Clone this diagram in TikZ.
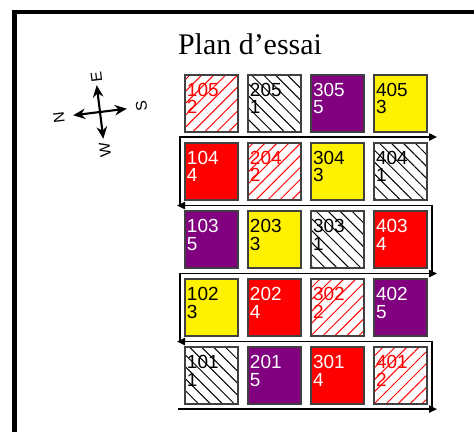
\documentclass[tikz,border=0pt]{standalone}
\usepackage{fontspec}
\setmainfont{Liberation Serif}
\newfontfamily\arialfont{Liberation Sans}
\usetikzlibrary{arrows.meta, positioning, patterns.meta}
\definecolor{plum}{RGB}{128,0,128}
\definecolor{edgegray}{RGB}{64,64,64}

\begin{document}
\begin{tikzpicture}[x=0.025cm, y=-0.025cm,
    node distance=0.275cm and 0.25cm,
    cell/.style={rectangle, draw=edgegray, line width=1.1pt, minimum width=1.325cm, minimum height=1.425cm, inner sep=0pt, outer sep=0pt},
    t1/.style={cell, pattern={Lines[angle=-45, distance=6pt, line width=0.7pt]}, pattern color=black},
    t2/.style={cell, pattern={Lines[angle=45, distance=6pt, line width=0.7pt]}, pattern color=red},
    t3/.style={cell, fill=yellow},
    t4/.style={cell, fill=red},
    t5/.style={cell, fill=plum},
    num/.style={anchor=north west, align=left, inner xsep=1.2pt, inner ysep=0.2cm, font=\arialfont\fontsize{13.5}{12.4}\selectfont},
    flow/.style={-{Triangle[length=2mm, width=1.8mm]}, line width=1.1pt},
    compass/.style={<->, >={Stealth[length=3mm, width=2.6mm]}, line width=1.5pt},
    dir/.style={rotate=97, inner sep=0pt, font=\arialfont\fontsize{11}{12}\selectfont},
]
    \useasboundingbox (0,0) rectangle (474,432);
    \draw[line width=2.85pt] (474,12) -- (14.5,12) -- (14.5,432);

    \node[anchor=base, font=\fontsize{21.3}{24}\selectfont] (title) at (250,54.5) {Plan d’essai};

    % compass
    \coordinate (tipE) at (96.7,85.2);
    \coordinate (tipW) at (103.3,138.8);
    \coordinate (tipN) at (73.2,115.3);
    \coordinate (tipS) at (126.8,108.7);
    \draw[compass] (tipE) -- (tipW);
    \draw[compass] (tipN) -- (tipS);
    \node[dir] (labE) at (96.5,77) {E};
    \node[dir] (labN) at (59,118) {N};
    \node[dir] (labS) at (141.5,106.5) {S};
    \node[dir] (labW) at (105,150) {W};

    % plots
    \node[t2, anchor=north west, label={[num, text=red]north west:{105\\2}}] (p105) at (185,75) {};
    \node[t1, right=of p105, label={[num]north west:{205\\1}}] (p205) {};
    \node[t5, right=of p205, label={[num, text=white]north west:{305\\5}}] (p305) {};
    \node[t3, right=of p305, label={[num]north west:{405\\3}}] (p405) {};

    \node[t4, below=of p105, label={[num, text=white]north west:{104\\4}}] (p104) {};
    \node[t2, right=of p104, label={[num, text=red]north west:{204\\2}}] (p204) {};
    \node[t3, right=of p204, label={[num]north west:{304\\3}}] (p304) {};
    \node[t1, right=of p304, label={[num]north west:{404\\1}}] (p404) {};

    \node[t5, below=of p104, label={[num, text=white]north west:{103\\5}}] (p103) {};
    \node[t3, right=of p103, label={[num]north west:{203\\3}}] (p203) {};
    \node[t1, right=of p203, label={[num]north west:{303\\1}}] (p303) {};
    \node[t4, right=of p303, label={[num, text=white]north west:{403\\4}}] (p403) {};

    \node[t3, below=of p103, label={[num]north west:{102\\3}}] (p102) {};
    \node[t4, right=of p102, label={[num, text=white]north west:{202\\4}}] (p202) {};
    \node[t2, right=of p202, label={[num, text=red]north west:{302\\2}}] (p302) {};
    \node[t5, right=of p302, label={[num, text=white]north west:{402\\5}}] (p402) {};

    \node[t1, below=of p102, label={[num]north west:{101\\1}}] (p101) {};
    \node[t5, right=of p101, label={[num, text=white]north west:{201\\5}}] (p201) {};
    \node[t4, right=of p201, label={[num, text=white]north west:{301\\4}}] (p301) {};
    \node[t2, right=of p301, label={[num, text=red]north west:{401\\2}}] (p401) {};

    % walking path
    \draw[flow] ([shift={(-7,5)}]p101.south west) -- ([shift={(10,5)}]p401.south east);
    \draw[flow] ([shift={(5,5)}]p401.south east) |- ([shift={(-8,-5.5)}]p101.north west);
    \draw[flow] ([shift={(-5,-5.5)}]p101.north west) |- ([shift={(10,-5.5)}]p402.north east);
    \draw[flow] ([shift={(5,-5.5)}]p402.north east) |- ([shift={(-8,-5.5)}]p103.north west);
    \draw[flow] ([shift={(-5,-5.5)}]p103.north west) |- ([shift={(10,-6)}]p404.north east);
\end{tikzpicture}
\end{document}
